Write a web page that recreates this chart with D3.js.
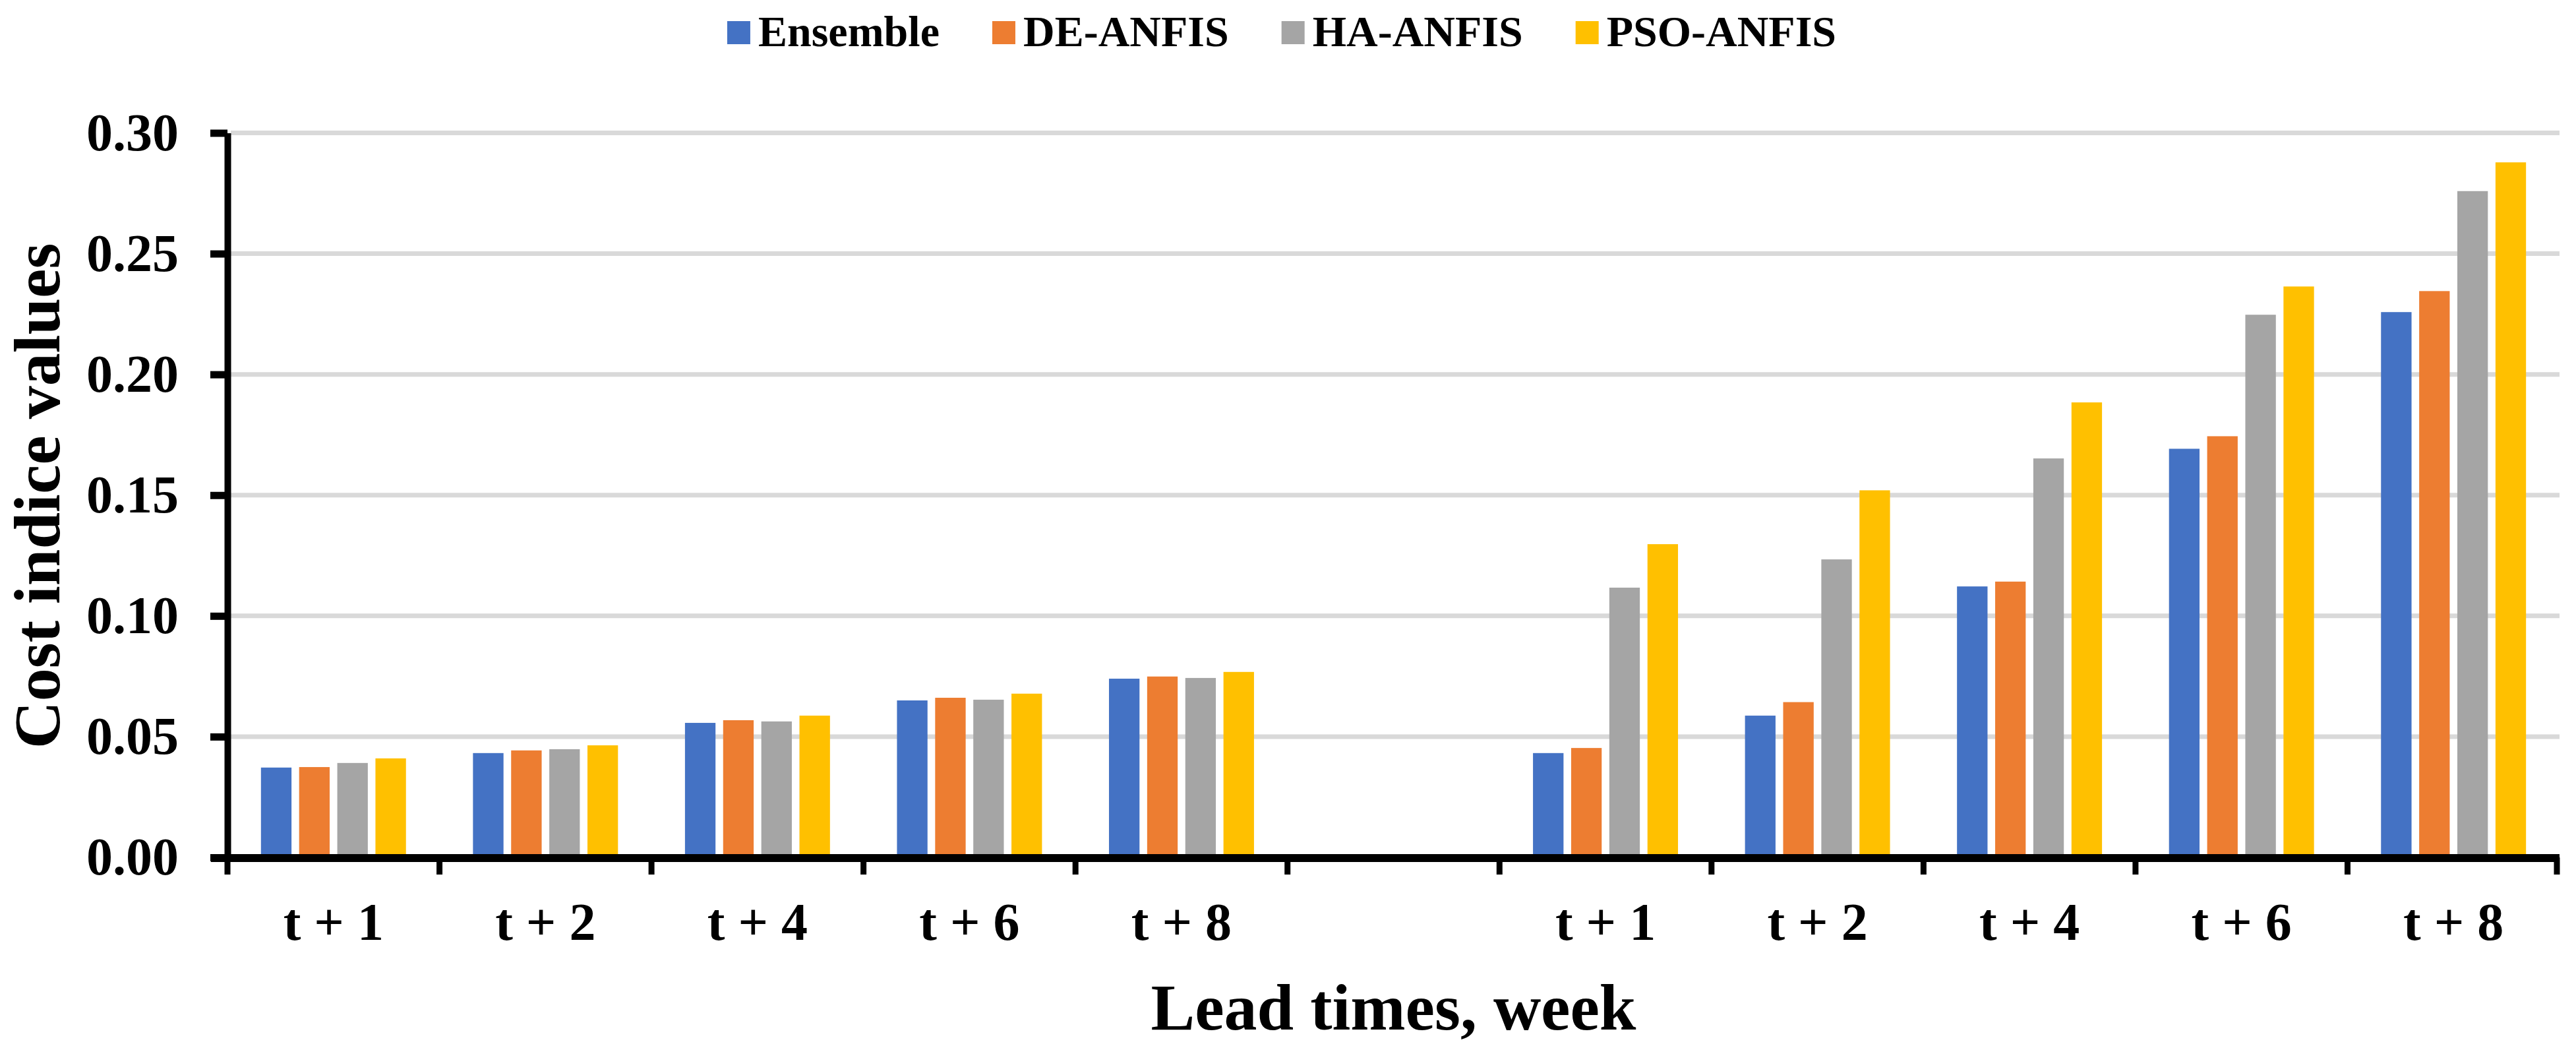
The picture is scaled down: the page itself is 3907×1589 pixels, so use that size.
<!DOCTYPE html>
<html>
<head>
<meta charset="utf-8">
<script src="https://cdn.jsdelivr.net/npm/d3@7"></script>
<style>
  html, body { margin: 0; padding: 0; background: #ffffff; }
  svg { display: block; }
  text { font-family: "Liberation Serif", "Times New Roman", serif; font-weight: bold; fill: #000; }
</style>
</head>
<body>
<svg id="chart" width="3907" height="1589"></svg>
<script>
// ---- data ----
const categories = ["g1", "g2", "g3", "g4", "g5", "gap", "g7", "g8", "g9", "g10", "g11"];
const categoryLabels = ["t + 1", "t + 2", "t + 4", "t + 6", "t + 8", "", "t + 1", "t + 2", "t + 4", "t + 6", "t + 8"];
const seriesNames = ["Ensemble", "DE-ANFIS", "HA-ANFIS", "PSO-ANFIS"];
const seriesColors = ["#4472c4", "#ed7d31", "#a5a5a5", "#ffc000"];
const ensembleValues = [0.0372, 0.0432, 0.0557, 0.0650, 0.0740, null, 0.0432, 0.0587, 0.1122, 0.1692, 0.2258];
const deAnfisValues  = [0.0374, 0.0443, 0.0568, 0.0661, 0.0749, null, 0.0453, 0.0643, 0.1142, 0.1744, 0.2345];
const haAnfisValues  = [0.0391, 0.0448, 0.0563, 0.0653, 0.0743, null, 0.1117, 0.1234, 0.1652, 0.2247, 0.2759];
const psoAnfisValues = [0.0410, 0.0464, 0.0587, 0.0678, 0.0768, null, 0.1297, 0.1520, 0.1884, 0.2364, 0.2878];
const yTicks = [0, 0.05, 0.10, 0.15, 0.20, 0.25, 0.30];
const yTitle = "Cost indice values";
const xTitle = "Lead times, week";

const seriesValues = [ensembleValues, deAnfisValues, haAnfisValues, psoAnfisValues];

// ---- layout ----
const svg = d3.select("#chart");
const plotLeft = 345, plotRight = 3882, plotTop = 201.5, plotBottom = 1300;

const x0 = d3.scaleBand().domain(categories).range([plotLeft, plotRight]).paddingInner(0.28).paddingOuter(0.14);
const x1 = d3.scaleBand().domain(seriesNames).range([0, x0.bandwidth()]).paddingInner(0.2).paddingOuter(0.1);
const y = d3.scaleLinear().domain([0, 0.30]).range([plotBottom, plotTop]);

// gridlines
svg.append("g").selectAll("line").data(yTicks.filter(d => d > 0)).join("line")
  .attr("x1", plotLeft + 5).attr("x2", plotRight)
  .attr("y1", d => y(d)).attr("y2", d => y(d))
  .attr("stroke", "#d9d9d9").attr("stroke-width", 7);

// bars
const barData = [];
categories.forEach((c, i) => {
  seriesNames.forEach((s, j) => {
    const v = seriesValues[j][i];
    if (v != null) barData.push({ c, s, v, color: seriesColors[j] });
  });
});
svg.append("g").selectAll("rect").data(barData).join("rect")
  .attr("x", d => x0(d.c) + x1(d.s))
  .attr("width", x1.bandwidth())
  .attr("y", d => y(d.v))
  .attr("height", d => y(0) - y(d.v))
  .attr("fill", d => d.color);

// y axis
const yAxis = svg.append("g").attr("transform", `translate(${plotLeft},0)`)
  .call(d3.axisLeft(y).tickValues(yTicks).tickFormat(d3.format(".2f")).tickSize(26).tickSizeOuter(0).tickPadding(48));
yAxis.select(".domain").attr("stroke", "#000").attr("stroke-width", 10);
yAxis.selectAll(".tick line").attr("stroke", "#000").attr("stroke-width", 11);
yAxis.selectAll(".tick text").attr("font-size", 80)
  .style("font-family", '"Liberation Serif", "Times New Roman", serif').style("font-weight", "bold").attr("fill", "#000");

// x axis labels
const xAxis = svg.append("g").attr("transform", `translate(0,${plotBottom})`)
  .call(d3.axisBottom(x0).tickSize(0).tickSizeOuter(0).tickPadding(68).tickFormat((d, i) => categoryLabels[i]));
xAxis.select(".domain").remove();
xAxis.selectAll(".tick text").attr("font-size", 80)
  .style("font-family", '"Liberation Serif", "Times New Roman", serif').style("font-weight", "bold").attr("fill", "#000");

// x axis line and boundary ticks
svg.append("line").attr("x1", 320).attr("x2", plotRight).attr("y1", plotBottom + 1).attr("y2", plotBottom + 1)
  .attr("stroke", "#000").attr("stroke-width", 12);
const boundaries = d3.range(categories.length + 1).map(i => plotLeft + i * x0.step() - (i === categories.length ? 4 : 0));
svg.append("g").selectAll("line").data(boundaries).join("line")
  .attr("x1", d => d).attr("x2", d => d)
  .attr("y1", plotBottom).attr("y2", plotBottom + 26)
  .attr("stroke", "#000").attr("stroke-width", 9);

// axis titles
svg.append("text").attr("transform", "translate(90,752) rotate(-90)")
  .attr("text-anchor", "middle").attr("font-size", 100).text(yTitle);
svg.append("text").attr("x", (plotLeft + plotRight) / 2).attr("y", 1561)
  .attr("text-anchor", "middle").attr("font-size", 100).text(xTitle);

// legend
const legend = svg.append("g");
const items = legend.selectAll("g").data(seriesNames).join("g");
items.append("rect").attr("width", 35).attr("height", 35).attr("y", 32)
  .attr("fill", (d, i) => seriesColors[i]);
items.append("text").attr("x", 47).attr("y", 70).attr("font-size", 66).text(d => d);
let cx = 0;
const offsets = [];
items.each(function () {
  offsets.push(cx);
  const w = d3.select(this).select("text").node().getComputedTextLength();
  cx += 47 + w + 80;
});
const totalW = cx - 80;
const startX = 1944 - totalW / 2;
items.attr("transform", (d, i) => `translate(${startX + offsets[i]},0)`);
</script>
</body>
</html>
